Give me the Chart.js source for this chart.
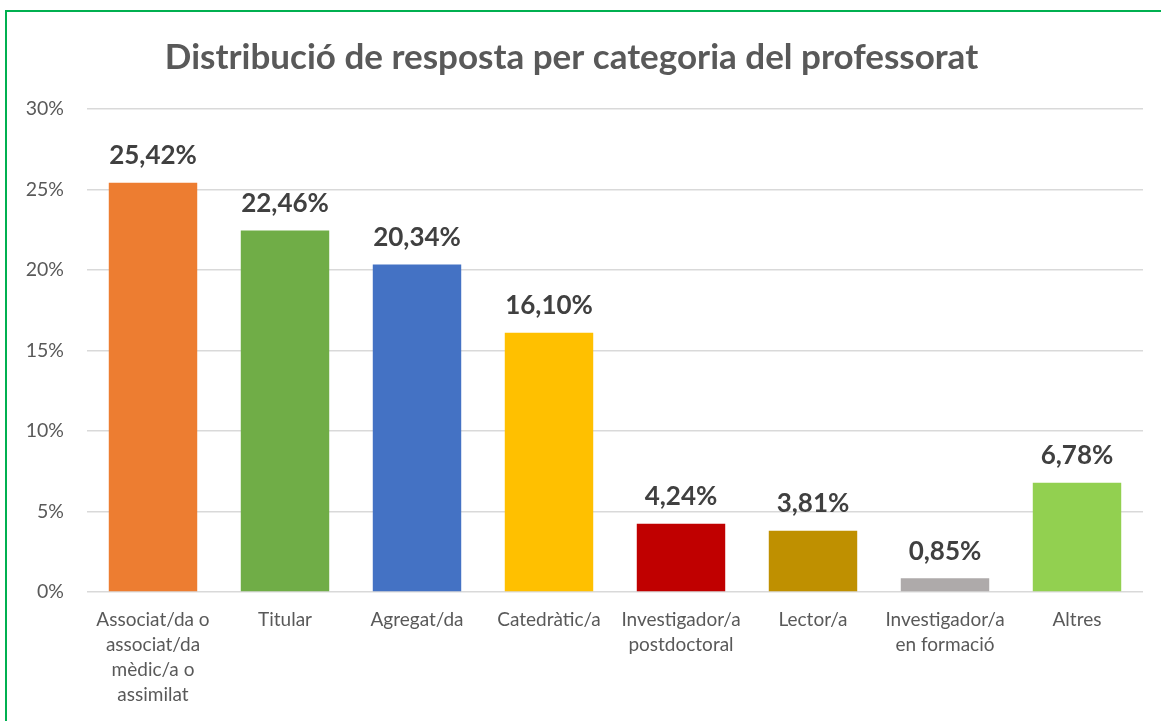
<!DOCTYPE html>
<html>
<head>
<meta charset="utf-8">
<script src="https://cdn.jsdelivr.net/npm/chart.js@4"></script>
<style>
  html, body { margin: 0; padding: 0; background: #fff; }
  #wrap { position: relative; width: 1161px; height: 721px; overflow: hidden; }
  #marc { position: absolute; left: 5px; top: 10px; width: 1200px; height: 800px; border: 2px solid #00B050; box-sizing: border-box; }
  #myChart { position: absolute; left: 0; top: 0; }
</style>
</head>
<body>
<div id="wrap">
  <div id="marc"></div>
  <canvas id="myChart" width="1161" height="721"></canvas>
</div>
<script>
const titol = 'Distribució de resposta per categoria del professorat'
const categories = [
  ['Associat/da o', 'associat/da', 'mèdic/a o', 'assimilat'],
  'Titular',
  'Agregat/da',
  'Catedràtic/a',
  ['Investigador/a', 'postdoctoral'],
  'Lector/a',
  ['Investigador/a', 'en formació'],
  'Altres'
]
const valors = [25.42, 22.46, 20.34, 16.10, 4.24, 3.81, 0.85, 6.78]
const colors = ['#ED7D31', '#70AD47', '#4472C4', '#FFC000', '#C00000', '#BF9000', '#AEAAAA', '#92D050']
const ticksY = [0, 5, 10, 15, 20, 25, 30]

const font = 'Lato, "Open Sans", sans-serif'

// etiquetes de dades damunt de cada barra
const etiquetes = {
  id: 'etiquetes',
  afterDatasetsDraw(chart) {
    const ctx = chart.ctx
    const meta = chart.getDatasetMeta(0)
    ctx.save()
    ctx.font = 'bold 26px ' + font
    ctx.fillStyle = '#404040'
    ctx.textAlign = 'center'
    ctx.textBaseline = 'middle'
    meta.data.forEach((bar, i) => {
      const txt = valors[i].toFixed(2).replace('.', ',') + '%'
      ctx.fillText(txt, bar.x, bar.y - 27)
    })
    ctx.restore()
  }
}

const chartContainer = document.getElementById('myChart')
const myChart = new Chart(chartContainer, {
  type: 'bar',
  data: {
    labels: categories,
    datasets: [{
      data: valors,
      backgroundColor: colors,
      categoryPercentage: 0.67,
      barPercentage: 1
    }]
  },
  options: {
    responsive: false,
    animation: false,
    layout: { padding: { left: 0, right: 18, top: 0, bottom: 0 } },
    plugins: {
      legend: { display: false },
      tooltip: { enabled: false },
      title: {
        display: true,
        text: titol,
        color: '#595959',
        font: { family: font, size: 35, weight: 'bold', lineHeight: 1.2 },
        padding: { top: 37, bottom: 30 }
      }
    },
    scales: {
      x: {
        grid: { display: false, drawTicks: false },
        border: { display: false },
        ticks: {
          color: '#595959',
          font: { family: font, size: 19, lineHeight: 1.32 },
          padding: 15,
          maxRotation: 0,
          autoSkip: false
        },
        afterFit(scale) { scale.height = 129 }
      },
      y: {
        min: 0,
        max: 30,
        afterBuildTicks(scale) { scale.ticks = ticksY.map(v => ({ value: v })) },
        grid: { color: '#D9D9D9', lineWidth: 1.5, drawTicks: false },
        border: { display: false },
        ticks: {
          color: '#595959',
          font: { family: font, size: 19.5 },
          padding: 23,
          callback: (v) => v + '%'
        },
        afterFit(scale) { scale.width = 87 }
      }
    }
  },
  plugins: [etiquetes]
})
</script>
</body>
</html>
